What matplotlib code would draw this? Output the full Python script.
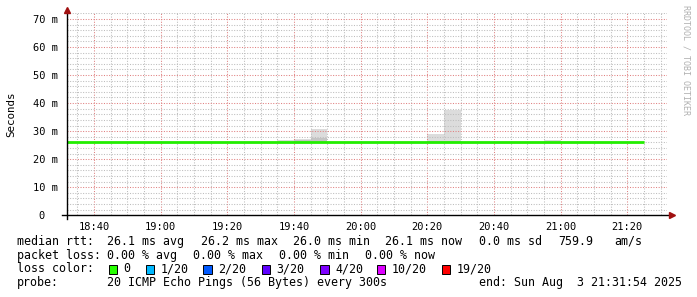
import matplotlib
matplotlib.use("Agg")
import matplotlib.pyplot as plt
from matplotlib.patches import Rectangle
import numpy as np

# taille de l'image en pixels
W, H = 697, 297

# --- donnees ---
# debut de chaque pas de 5 min, valeur mediane du rtt (ms)
bin_starts = ["18:30", "18:35", "18:40", "18:45", "18:50", "18:55",
              "19:00", "19:05", "19:10", "19:15", "19:20", "19:25",
              "19:30", "19:35", "19:40", "19:45", "19:50", "19:55",
              "20:00", "20:05", "20:10", "20:15", "20:20", "20:25",
              "20:30", "20:35", "20:40", "20:45", "20:50", "20:55",
              "21:00", "21:05", "21:10", "21:15", "21:20"]
median_ms = [26.1, 26.1, 26.1, 26.1, 26.1, 26.0, 26.1, 26.1, 26.1, 26.1,
             26.1, 26.1, 26.1, 26.1, 26.2, 26.1, 26.1, 26.1, 26.1, 26.1,
             26.1, 26.1, 26.1, 26.2, 26.1, 26.1, 26.1, 26.1, 26.1, 26.1,
             26.1, 26.1, 26.1, 26.0, 26.1]

# fumee (dispersion des pings) : pas, bas, haut, et bande plus foncee
smoke_bins = ["19:35", "19:40", "19:45", "20:20", "20:25", "20:55"]
smoke_low = [25.9, 25.9, 25.9, 25.9, 25.9, 25.9]
smoke_high = [26.8, 27.3, 30.9, 29.0, 37.5, 26.8]
smoke_dark_high = [26.2, 26.7, 27.4, 26.4, 26.6, 26.2]

x_ticks = ["18:40", "19:00", "19:20", "19:40", "20:00", "20:20", "20:40", "21:00", "21:20"]
y_ticks = [0, 10, 20, 30, 40, 50, 60, 70]
y_labels = ["0  ", "10 m", "20 m", "30 m", "40 m", "50 m", "60 m", "70 m"]

t_start = "18:31:54"
t_end = "21:31:54"
step_min = 5


def to_min(s):
    # minutes depuis 18:00
    parts = [int(p) for p in s.split(":")]
    m = (parts[0] - 18) * 60 + parts[1]
    if len(parts) > 2:
        m += parts[2] / 60.0
    return m


def fx(x):
    return x / W


def fy(y):
    return (H - y) / H


MONO = "DejaVu Sans Mono"
fig = plt.figure(figsize=(W / 100, H / 100), dpi=100)
ax = fig.add_axes([fx(67), fy(215.3), fx(600), (215.3 - 13) / H])

# fumee
for b, lo, hi, dk in zip(smoke_bins, smoke_low, smoke_high, smoke_dark_high):
    x0 = to_min(b)
    ax.fill_between([x0, x0 + step_min], lo, hi, color="#dcdcdc", lw=0, zorder=1)
    ax.fill_between([x0, x0 + step_min], lo, dk, color="#c4c4c4", lw=0, zorder=1.1)

# ligne mediane (en escalier)
xs = [to_min(b) for b in bin_starts]
xs.append(xs[-1] + step_min)
ys = list(median_ms) + [median_ms[-1]]
ax.step(xs, ys, where="post", color="#22ee00", lw=2.0, zorder=3, solid_capstyle="butt")

ax.set_xlim(to_min(t_start), to_min(t_end))
ax.set_ylim(0, 72.1)

# grille
ax.set_xticks([to_min(t) for t in x_ticks])
ax.set_xticklabels(x_ticks)
ax.set_xticks(np.arange(35, 212, 5), minor=True)
ax.set_yticks(y_ticks)
ax.set_yticklabels(y_labels)
ax.set_yticks(np.arange(0, 72.1, 2), minor=True)
ax.grid(which="minor", color="#bdbdbd", lw=0.75, linestyle=(0, (1, 1.5)))
ax.grid(which="major", color="#e08080", lw=0.75, linestyle=(0, (1, 1.5)))
ax.set_axisbelow(False)

for sp in ax.spines.values():
    sp.set_visible(False)
ax.tick_params(which="both", length=0)
ax.tick_params(axis="x", labelsize=7.5, pad=5)
ax.tick_params(axis="y", labelsize=7.5, pad=6.5)
for lab in ax.get_xticklabels() + ax.get_yticklabels():
    lab.set_family(MONO)

ax.set_ylabel("Seconds", family=MONO, fontsize=7.8)
ax.yaxis.set_label_coords((16 - 67) / 600, 0.5)

# axes avec fleches
ax.plot([-5 / 600, 605 / 600], [0, 0], transform=ax.transAxes, color="black",
        lw=1.0, clip_on=False, zorder=4)
ax.plot([0, 0], [-4 / 202, 1 + 3 / 202], transform=ax.transAxes, color="black",
        lw=1.0, clip_on=False, zorder=4)
ax.plot([605 / 600], [0], marker=">", ms=5, color="#a01010", transform=ax.transAxes,
        clip_on=False, zorder=5)
ax.plot([0], [1 + 3 / 202], marker="^", ms=5, color="#a01010", transform=ax.transAxes,
        clip_on=False, zorder=5)

# filigrane
fig.text(fx(686), fy(60), "RRDTOOL / TOBI OETIKER", rotation=270, family=MONO,
         fontsize=6.0, color="#b0b0b0", ha="center", va="center")

# legende
FS = 8.4
legend_rows = [
    (241.5, [(16.7, "median rtt:"), (107.3, "26.1 ms avg"), (200.7, "26.2 ms max"),
             (293.3, "26.0 ms min"), (385.0, "26.1 ms now"), (479.3, "0.0 ms sd"),
             (558.3, "759.9"), (614.3, "am/s")]),
    (255.3, [(16.7, "packet loss:"), (107.3, "0.00 % avg"), (193.3, "0.00 % max"),
             (279.3, "0.00 % min"), (365.0, "0.00 % now")]),
    (269.0, [(16.7, "loss color:")]),
    (282.8, [(16.7, "probe:"), (107.3, "20 ICMP Echo Pings (56 Bytes) every 300s"),
             (479.0, "end: Sun Aug  3 21:31:54 2025")]),
]
for y, items in legend_rows:
    for x, s in items:
        fig.text(fx(x), fy(y), s, family=MONO, fontsize=FS, ha="left", va="center")

loss_labels = ["0", "1/20", "2/20", "3/20", "4/20", "10/20", "19/20"]
loss_colors = ["#26ff00", "#00b8ff", "#0059ff", "#5e00ff", "#7e00ff", "#dd00ff", "#ff0000"]
loss_box_x = [108.7, 145.7, 203.3, 261.7, 320.0, 376.7, 441.7]
for lab, col, bx in zip(loss_labels, loss_colors, loss_box_x):
    fig.add_artist(Rectangle((fx(bx), fy(273.5)), 8.5 / W, 8.5 / H, facecolor=col,
                             edgecolor="black", lw=0.7, transform=fig.transFigure))
    fig.text(fx(bx + 15), fy(269.0), lab, family=MONO, fontsize=FS, ha="left", va="center")

fig.savefig("out.png", dpi=100)
